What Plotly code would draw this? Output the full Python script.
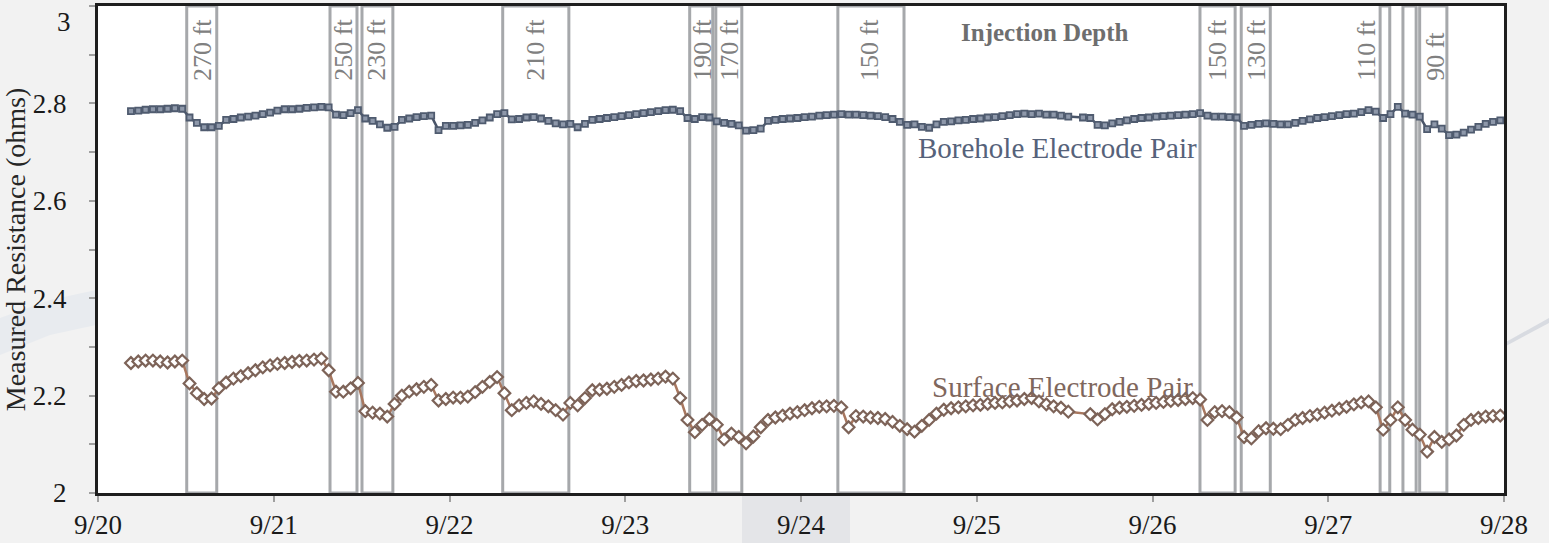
import pandas as pd
import plotly.graph_objects as go

# ---------------- data ----------------
start_time = "2013-09-20 04:30"   # first reading, hourly afterwards

borehole = [
    2.784, 2.785, 2.787, 2.788, 2.788, 2.789, 2.790, 2.789, 2.771, 2.760,
    2.751, 2.751, 2.754, 2.766, 2.768, 2.771, 2.773, 2.775, 2.778, 2.781,
    2.785, 2.788, 2.788, 2.789, 2.791, 2.792, 2.793, 2.792, 2.777, 2.776,
    2.780, 2.786, 2.769, 2.764, 2.757, 2.750, 2.752, 2.766, 2.769, 2.772,
    2.774, 2.775, 2.745, 2.754, 2.754, 2.755, 2.756, 2.760, 2.765, 2.771,
    2.778, 2.780, 2.767, 2.768, 2.771, 2.772, 2.769, 2.764, 2.759, 2.757,
    2.758, 2.751, 2.758, 2.766, 2.768, 2.770, 2.772, 2.774, 2.776, 2.778,
    2.780, 2.782, 2.784, 2.786, 2.787, 2.784, 2.770, 2.768, 2.772, 2.771,
    2.763, 2.760, 2.758, 2.755, 2.744, 2.745, 2.748, 2.764, 2.766, 2.768,
    2.769, 2.770, 2.772, 2.773, 2.775, 2.776, 2.777, 2.778, 2.777, 2.777,
    2.776, 2.775, 2.774, 2.772, 2.768, 2.762, 2.756, 2.757, 2.752, 2.750,
    2.757, 2.762, 2.763, 2.765, 2.766, 2.768, 2.769, 2.771, 2.772, 2.774,
    2.776, 2.778, 2.779, 2.778, 2.779, 2.777, 2.777, 2.775, 2.773, None,
    2.771, 2.770, 2.756, 2.755, 2.759, 2.762, 2.765, 2.768, 2.770, 2.771,
    2.773, 2.774, 2.775, 2.776, 2.777, 2.778, 2.780, 2.775, 2.773, 2.773,
    2.772, 2.771, 2.754, 2.756, 2.758, 2.759, 2.758, 2.757, 2.757, 2.760,
    2.764, 2.767, 2.770, 2.772, 2.774, 2.776, 2.778, 2.779, 2.782, 2.786,
    2.783, 2.770, 2.778, 2.793, 2.779, 2.777, 2.773, 2.747, 2.757, 2.748,
    2.735, 2.736, 2.740, 2.746, 2.752, 2.758, 2.762, 2.765,
]

surface = [
    2.267, 2.270, 2.272, 2.272, 2.270, 2.268, 2.270, 2.272, 2.225, 2.205,
    2.193, 2.194, 2.215, 2.227, 2.235, 2.240, 2.246, 2.252, 2.258, 2.262,
    2.265, 2.267, 2.269, 2.271, 2.272, 2.274, 2.276, 2.252, 2.208, 2.208,
    2.215, 2.226, 2.168, 2.165, 2.163, 2.157, 2.183, 2.200, 2.208, 2.213,
    2.218, 2.222, 2.190, 2.193, 2.196, 2.196, 2.198, 2.207, 2.218, 2.228,
    2.238, 2.205, 2.170, 2.180, 2.185, 2.188, 2.183, 2.178, 2.170, 2.161,
    2.185, 2.180, 2.195, 2.211, 2.212, 2.214, 2.218, 2.222, 2.227, 2.230,
    2.231, 2.233, 2.235, 2.239, 2.235, 2.195, 2.150, 2.125, 2.140, 2.152,
    2.140, 2.110, 2.122, 2.115, 2.102, 2.116, 2.135, 2.150, 2.155, 2.159,
    2.163, 2.166, 2.170, 2.174, 2.177, 2.178, 2.179, 2.176, 2.135, 2.158,
    2.157, 2.155, 2.154, 2.152, 2.146, 2.138, 2.131, 2.126, 2.138, 2.150,
    2.163, 2.171, 2.174, 2.176, 2.178, 2.180, 2.181, 2.183, 2.185, 2.186,
    2.188, 2.190, 2.193, 2.195, 2.188, 2.182, 2.178, 2.175, 2.167, None,
    None, 2.162, 2.151, 2.162, 2.172, 2.175, 2.177, 2.179, 2.181, 2.183,
    2.185, 2.187, 2.189, 2.191, 2.193, 2.195, 2.192, 2.150, 2.166, 2.168,
    2.166, 2.155, 2.115, 2.112, 2.127, 2.133, 2.132, 2.131, 2.140, 2.150,
    2.154, 2.158, 2.161, 2.165, 2.169, 2.173, 2.177, 2.182, 2.186, 2.188,
    2.176, 2.130, 2.150, 2.176, 2.150, 2.130, 2.120, 2.085, 2.115, 2.105,
    2.110, 2.118, 2.140, 2.150, 2.154, 2.157, 2.158, 2.159,
]

# injection intervals (start, end)
band_starts = ["2013-09-20 12:07", "2013-09-21 07:41", "2013-09-21 12:03",
               "2013-09-22 07:16", "2013-09-23 08:48", "2013-09-23 12:22",
               "2013-09-24 05:02", "2013-09-26 06:29", "2013-09-26 12:07",
               "2013-09-27 07:05", "2013-09-27 10:12", "2013-09-27 12:29"]
band_ends = ["2013-09-20 16:13", "2013-09-21 11:22", "2013-09-21 16:16",
             "2013-09-22 16:18", "2013-09-23 11:57", "2013-09-23 15:55",
             "2013-09-24 14:04", "2013-09-26 11:17", "2013-09-26 16:05",
             "2013-09-27 08:24", "2013-09-27 12:00", "2013-09-27 16:12"]

depth_labels = ["270 ft", "250 ft", "230 ft", "210 ft", "190 ft", "170 ft",
                "150 ft", "150 ft", "130 ft", "110 ft", "90 ft"]
depth_label_times = ["2013-09-20 14:20", "2013-09-21 09:33", "2013-09-21 14:04",
                     "2013-09-22 11:47", "2013-09-23 10:36", "2013-09-23 14:17",
                     "2013-09-24 09:25", "2013-09-26 08:57", "2013-09-26 14:17",
                     "2013-09-27 05:11", "2013-09-27 14:37"]

x_ticks = ["2013-09-20", "2013-09-21", "2013-09-22", "2013-09-23", "2013-09-24",
           "2013-09-25", "2013-09-26", "2013-09-27", "2013-09-28"]
y_tickvals = [2.0, 2.1, 2.2, 2.3, 2.4, 2.5, 2.6, 2.7, 2.8, 2.9, 3.0]
y_ticktext = ["2", "", "2.2", "", "2.4", "", "2.6", "", "2.8", "", ""]
y_top_label = "3"

# ---------------- figure ----------------
W, H = 1549, 543
ML, MR, MT, MB = 98, 45, 6, 50
SERIF = "Liberation Serif"

times_b = pd.date_range(start_time, periods=len(borehole), freq="h")
times_s = pd.date_range(start_time, periods=len(surface), freq="h")

fig = go.Figure()

fig.add_trace(go.Scatter(
    x=times_b, y=borehole, mode="lines+markers", connectgaps=True,
    line=dict(color="#4A5569", width=2.5),
    marker=dict(symbol="square", size=6, color="#8E98AA",
                line=dict(color="#4F5B6F", width=1.8)),
    showlegend=False, hoverinfo="x+y"))

fig.add_trace(go.Scatter(
    x=times_s, y=surface, mode="lines+markers", connectgaps=True,
    line=dict(color="#A8775F", width=2.5),
    marker=dict(symbol="diamond", size=9, color="white",
                line=dict(color="#7D6358", width=2.2)),
    showlegend=False, hoverinfo="x+y"))

shapes = []
# background decorations of the slide (outside the plot area)
def px2paper(px, py):
    return (px - ML) / (W - ML - MR), (H - MB - py) / (H - MT - MB)

x0, y0 = px2paper(742, 495)
x1, y1 = px2paper(850, 543)
shapes.append(dict(type="rect", xref="paper", yref="paper", x0=x0, y0=y0, x1=x1, y1=y1,
                   fillcolor="#E4E5E8", line=dict(width=0), layer="below"))
pts = [(0, 318), (50, 300), (96, 290), (96, 325), (50, 335), (0, 355)]
path = "M " + " L ".join("%f,%f" % px2paper(a, b) for a, b in pts) + " Z"
shapes.append(dict(type="path", xref="paper", yref="paper", path=path,
                   fillcolor="#E8EBEF", line=dict(width=0), layer="below"))
pts = [(1506, 342), (1549, 318), (1549, 323), (1506, 346)]
path = "M " + " L ".join("%f,%f" % px2paper(a, b) for a, b in pts) + " Z"
shapes.append(dict(type="path", xref="paper", yref="paper", path=path,
                   fillcolor="#D8DBE1", line=dict(width=0), layer="below"))

for s, e in zip(band_starts, band_ends):
    shapes.append(dict(type="rect", xref="x", yref="paper", x0=s, x1=e, y0=0, y1=1,
                       line=dict(color="#A6A8AB", width=3),
                       fillcolor="rgba(0,0,0,0)", layer="below"))

annotations = []
for lab, t in zip(depth_labels, depth_label_times):
    annotations.append(dict(x=t, y=(H - MB - 83) / (H - MT - MB), xref="x", yref="paper",
                            text=lab, textangle=-90, showarrow=False,
                            xanchor="center", yanchor="bottom",
                            font=dict(family=SERIF, size=26, color="#808080")))

annotations.append(dict(x="2013-09-25 09:19", y=2.9446, xref="x", yref="y",
                        text="<b>Injection Depth</b>", showarrow=False,
                        font=dict(family=SERIF, size=25, color="#6E6E6E")))
annotations.append(dict(x="2013-09-25 10:58", y=2.708, xref="x", yref="y",
                        text="Borehole Electrode Pair", showarrow=False,
                        font=dict(family=SERIF, size=29, color="#56627A")))
annotations.append(dict(x="2013-09-25 11:39", y=2.2175, xref="x", yref="y",
                        text="Surface Electrode Pair", showarrow=False,
                        font=dict(family=SERIF, size=29, color="#7F675D")))
# top y label sits a little lower than its tick, as in the original
annotations.append(dict(x=(73 - ML) / (W - ML - MR), y=(H - MB - 22) / (H - MT - MB),
                        xref="paper", yref="paper", text=y_top_label, showarrow=False,
                        xanchor="right", yanchor="middle",
                        font=dict(family=SERIF, size=27, color="#1A1A1A")))

fig.update_layout(
    width=W, height=H,
    margin=dict(l=ML, r=MR, t=MT, b=MB, autoexpand=False),
    paper_bgcolor="#F2F2F2", plot_bgcolor="white",
    shapes=shapes, annotations=annotations,
    xaxis=dict(type="date", range=[x_ticks[0], x_ticks[-1]],
               tickvals=x_ticks, tickformat="%-m/%-d", automargin=False,
               showgrid=False, zeroline=False,
               showline=True, linecolor="#1E1E1E", linewidth=3, mirror=True,
               ticks="outside", ticklen=6, tickwidth=2, tickcolor="#A0A0A0",
               ticklabelstandoff=0, ticklabeloverflow="allow",
               tickfont=dict(family=SERIF, size=27, color="#1A1A1A")),
    yaxis=dict(range=[2, 3], tickvals=y_tickvals, ticktext=y_ticktext,
               automargin=False,
               showgrid=False, zeroline=False,
               showline=True, linecolor="#1E1E1E", linewidth=3, mirror=True,
               ticks="outside", ticklen=6, tickwidth=2, tickcolor="#A0A0A0",
               ticklabelstandoff=17, ticklabeloverflow="allow",
               tickfont=dict(family=SERIF, size=27, color="#1A1A1A"),
               title=dict(text="Measured Resistance (ohms)", standoff=2,
                          font=dict(family=SERIF, size=28, color="#262626"))),
)

fig.write_html("out.html", config={"displayModeBar": False},
               post_script="document.body.style.margin='0';")
